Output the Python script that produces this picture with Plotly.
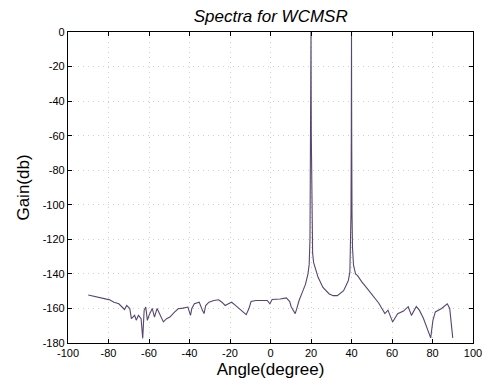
import plotly.graph_objects as go

angle = [-90, -88, -86, -84.5, -82.8, -81, -79.7, -77.3, -74.9, -73.4, -72.1, -71, -69.5, -68.7,
         -67.1, -66.3, -65.2, -63.9, -63.1, -62.4, -61.6, -60.8, -60, -58.4, -57.3, -56, -54.5,
         -52.9, -51.3, -49.7, -47.4, -45.6, -43.2, -40.8, -39.5, -38.9, -37.6, -35.2, -33.6,
         -32.8, -32, -30.4, -28, -25.6, -24, -22.4, -20.8, -19.2, -17.6, -15.2, -13.6, -12,
         -10.7, -9.6, -7.2, -4, -1.6, -0.3, 0.8, 4.8, 7.8, 9.5, 10.2, 11.2, 12.2, 13, 14.1,
         15.6, 17.3, 18.5, 19.1, 19.5, 19.6, 19.7, 19.85, 20, 20.15, 20.3, 20.5, 20.8, 21.3,
         22, 23.5, 25.9, 29, 31, 33, 36.1, 38.4, 39.2, 39.6, 39.75, 39.9, 40, 40.1, 40.25,
         40.5, 41, 42, 43, 45, 48, 51, 53.5, 55, 56.5, 58, 60.3, 62.8, 65.7, 68, 69.6, 72,
         73.5, 75.5, 77.8, 79.1, 80.2, 81.4, 84.5, 87.3, 88.5, 90]
gain = [-152.2, -152.8, -153.5, -154, -154.5, -154.6, -154.9, -156.4, -157.3, -159.2, -160.6,
        -158.3, -160, -165.9, -164, -166.8, -164, -165.9, -177.3, -161.1, -159.2, -166.9, -164,
        -160, -165, -160, -164, -167.8, -165.9, -165, -162.1, -160.2, -159.8, -159.2, -164,
        -160.2, -157.3, -156.4, -161.1, -163, -158.3, -156.4, -155.4, -155, -156.4, -158.3,
        -157.3, -156.4, -157.9, -160.2, -162.1, -163.6, -160.2, -156, -155.4, -155.4, -155.4,
        -157.3, -154.8, -154.5, -153.9, -156, -159, -161, -163, -160, -155.4, -151, -145.9,
        -140, -134.5, -120, -100, -96, -60, 0, -60, -96, -110, -128, -133.5, -136.4, -142,
        -147.8, -151.6, -152.6, -152.6, -149.7, -144, -139, -120, -105, -60, 0, -60, -105,
        -125, -135, -140, -141, -144.5, -148.8, -153, -157, -160, -163, -161, -167.8, -163,
        -161.5, -159, -164, -158.9, -161, -165.7, -173.5, -177, -166.9, -162, -160, -157.3,
        -160, -177]

x_ticks = list(range(-100, 101, 20))
y_ticks = list(range(-180, 1, 20))

fig = go.Figure()
fig.add_trace(go.Scatter(x=angle, y=gain, mode="lines",
                         line=dict(color="#564670", width=1.1), showlegend=False))

axis_common = dict(showline=True, linecolor="black", linewidth=1.2, mirror="ticks",
                   ticks="inside", ticklen=4, tickcolor="black",
                   showgrid=True, gridcolor="#cfcfcf", griddash="1px,4px", gridwidth=1,
                   zeroline=False, tickfont=dict(family="Liberation Sans, Arial", size=11, color="black"))

fig.update_layout(
    width=494, height=389,
    margin=dict(l=68, r=13, t=32, b=46),
    paper_bgcolor="white", plot_bgcolor="white",
    title=dict(text="<i>Spectra for WCMSR</i>", x=0.548, xanchor="center", y=0.96, yanchor="middle",
               font=dict(family="Liberation Sans, Arial", size=17, color="black")),
    xaxis=dict(range=[-100, 100], tickvals=x_ticks, ticktext=[str(v) for v in x_ticks],
               title=dict(text="Angle(degree)", standoff=4,
                          font=dict(family="Liberation Sans, Arial", size=17, color="black")),
               **axis_common),
    yaxis=dict(range=[-180, 0], tickvals=y_ticks, ticktext=[str(v) for v in y_ticks],
               title=dict(text="Gain(db)", standoff=8,
                          font=dict(family="Liberation Sans, Arial", size=17, color="black")),
               **axis_common),
)

fig.write_html("out.html")
